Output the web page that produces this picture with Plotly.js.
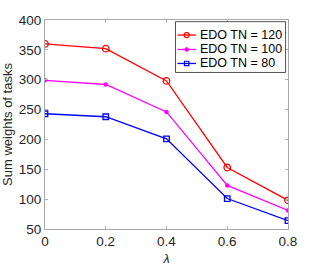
<!DOCTYPE html>
<html><head><meta charset="utf-8">
<script src="https://cdn.plot.ly/plotly-3.0.1.min.js"></script>
<style>html,body{margin:0;padding:0;background:#fff}#c{width:319px;height:266px}</style>
</head><body><div id="c"></div>
<script>
const lambda = [0, 0.2, 0.4, 0.6, 0.8];
const tn120 = [360, 352, 298, 153, 98];
const tn100 = [299, 292, 246, 123, 81];
const tn80 = [243, 238, 201, 101, 64];
const names = ["EDO TN = 120", "EDO TN = 100", "EDO TN = 80"];
const colors = ["#ff0000", "#ff00ff", "#0000ff"];
const yTicks = [50, 100, 150, 200, 250, 300, 350, 400];
const xTicks = [0, 0.2, 0.4, 0.6, 0.8];

const traces = [
  {x: lambda, y: tn120, name: names[0], mode: "lines+markers",
   line: {color: colors[0], width: 1.3},
   marker: {symbol: "circle-open", size: 6.5, color: colors[0], line: {width: 1.3}}},
  {x: lambda, y: tn100, name: names[1], mode: "lines+markers",
   line: {color: colors[1], width: 1.3},
   marker: {symbol: "circle", size: 4.5, color: colors[1]}},
  {x: lambda, y: tn80, name: names[2], mode: "lines+markers",
   line: {color: colors[2], width: 1.3},
   marker: {symbol: "square-open", size: 5.5, color: colors[2], line: {width: 1.3}}}
];

// custom compact legend (MATLAB style)
const legRows = [0.928, 0.859, 0.792];
const lx0 = 0.545, lx1 = 0.621, lxm = 0.583, ltx = 0.628;
const shapes = [{type: "rect", xref: "paper", yref: "paper", x0: 0.537, x1: 0.990, y0: 0.749, y1: 0.992,
                 line: {color: "#262626", width: 0.8}, fillcolor: "#fff", layer: "above"}];
const annotations = [];
const kinds = ["circle-open", "dot", "square-open"];
legRows.forEach((ry, i) => {
  shapes.push({type: "line", xref: "paper", yref: "paper", x0: lx0, x1: lx1, y0: ry, y1: ry,
               line: {color: colors[i], width: 1.3}, layer: "above"});
  const base = {xref: "paper", yref: "paper", xsizemode: "pixel", ysizemode: "pixel",
                xanchor: lxm, yanchor: ry, layer: "above"};
  if (kinds[i] === "circle-open") shapes.push(Object.assign({type: "circle", x0: -2.5, x1: 2.5, y0: -2.5, y1: 2.5,
      line: {color: colors[i], width: 1.2}, fillcolor: "rgba(0,0,0,0)"}, base));
  else if (kinds[i] === "dot") shapes.push(Object.assign({type: "circle", x0: -2, x1: 2, y0: -2, y1: 2,
      line: {color: colors[i], width: 0.5}, fillcolor: colors[i]}, base));
  else shapes.push(Object.assign({type: "rect", x0: -2.2, x1: 2.2, y0: -2.2, y1: 2.2,
      line: {color: colors[i], width: 1.2}, fillcolor: "rgba(0,0,0,0)"}, base));
  annotations.push({xref: "paper", yref: "paper", x: ltx, y: ry, xanchor: "left", yanchor: "middle",
                    text: names[i], showarrow: false, font: {size: 12.5, color: "#000"}});
});

const layout = {
  width: 319, height: 266,
  margin: {l: 45, r: 31, t: 20, b: 37},
  paper_bgcolor: "#fff", plot_bgcolor: "#fff",
  font: {family: "Liberation Sans, Arial, sans-serif", size: 13, color: "#262626"},
  showlegend: false,
  shapes: shapes, annotations: annotations,
  xaxis: {range: [0, 0.8], tickvals: xTicks, ticktext: xTicks.map(String),
          ticks: "inside", ticklen: 3, tickcolor: "#b0b0b0",
          showline: true, linecolor: "#a8a8a8", linewidth: 1, mirror: "ticks",
          showgrid: false, zeroline: false, tickfont: {size: 13.5},
          title: {text: "<i>λ</i>", font: {size: 12.5}, standoff: 6}},
  yaxis: {range: [50, 400], tickvals: yTicks, ticktext: yTicks.map(String),
          ticks: "inside", ticklen: 3, tickcolor: "#b0b0b0",
          showline: true, linecolor: "#a8a8a8", linewidth: 1, mirror: "ticks",
          showgrid: false, zeroline: false, tickfont: {size: 13.5},
          title: {text: "Sum weights of tasks", font: {size: 13}, standoff: 3}}
};
Plotly.newPlot("c", traces, layout, {displayModeBar: false, staticPlot: true});
</script></body></html>
